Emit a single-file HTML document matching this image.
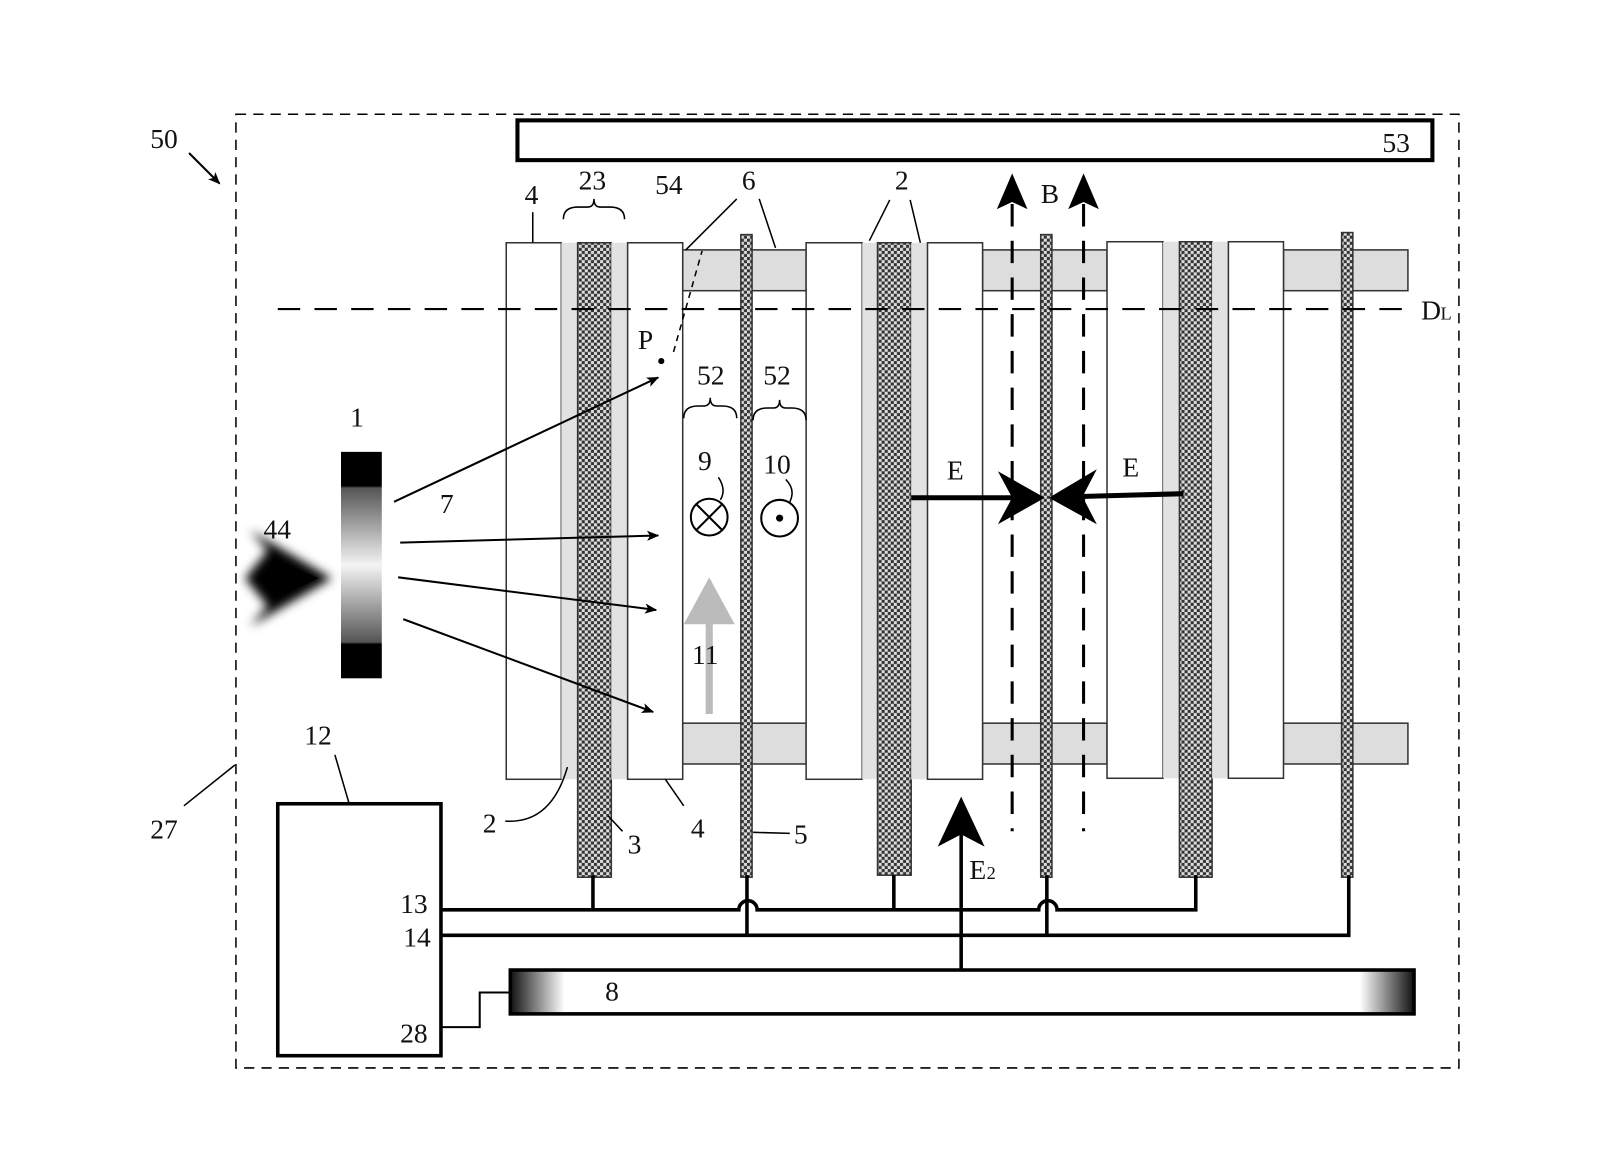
<!DOCTYPE html>
<html><head><meta charset="utf-8"><style>
html,body{margin:0;padding:0;background:#fff}
svg{display:block}
text{font-family:"Liberation Serif",serif;font-size:27px;fill:#111}
</style></head><body>
<svg width="1600" height="1173" viewBox="0 0 1568 1150" xmlns="http://www.w3.org/2000/svg">
<defs>
<pattern id="hatch" width="6" height="6" patternUnits="userSpaceOnUse">
<rect width="6" height="6" fill="#ddd"/><rect width="3" height="3" fill="#333"/><rect x="3" y="3" width="3" height="3" fill="#333"/>
</pattern>
<linearGradient id="src" x1="0" y1="0" x2="0" y2="1">
<stop offset="0" stop-color="#000"/><stop offset="0.15" stop-color="#000"/><stop offset="0.16" stop-color="#555"/>
<stop offset="0.5" stop-color="#f4f4f4"/><stop offset="0.84" stop-color="#555"/><stop offset="0.85" stop-color="#000"/><stop offset="1" stop-color="#000"/>
</linearGradient>
<linearGradient id="g8" x1="0" y1="0" x2="1" y2="0">
<stop offset="0" stop-color="#111"/><stop offset="0.06" stop-color="#fff"/><stop offset="0.94" stop-color="#fff"/><stop offset="1" stop-color="#111"/>
</linearGradient>
<filter id="blur"><feGaussianBlur stdDeviation="5"/></filter>
<marker id="ah" markerWidth="12" markerHeight="10" refX="11" refY="5" orient="auto" markerUnits="userSpaceOnUse"><path d="M0,0 L12,5 L0,10 L3,5z" fill="#000"/></marker>
</defs>

<!-- outer dashed -->
<rect x="231" y="112" width="1199" height="935" fill="none" stroke="#000" stroke-width="1.5" stroke-dasharray="10,7"/>
<!-- 53 -->
<rect x="507" y="118" width="897" height="39" fill="#fff" stroke="#000" stroke-width="4"/>
<text x="1355" y="149">53</text>

<!-- bars -->
<g fill="#ddd" stroke="#333" stroke-width="1.5">
<rect x="669" y="245" width="121" height="40"/><rect x="963" y="245" width="122" height="40"/><rect x="1258" y="245" width="122" height="40"/>
<rect x="669" y="709" width="121" height="40"/><rect x="963" y="709" width="122" height="40"/><rect x="1258" y="709" width="122" height="40"/>
</g>

<!-- plate groups -->
<g stroke="#333" stroke-width="1.5">
<rect x="496" y="238" width="54" height="526" fill="#fff"/>
<rect x="550" y="238" width="16" height="526" fill="#e2e2e2" stroke="none"/>
<rect x="566" y="238" width="33" height="622" fill="url(#hatch)"/>
<rect x="599" y="238" width="16" height="526" fill="#e2e2e2" stroke="none"/>
<rect x="615" y="238" width="54" height="526" fill="#fff"/>

<rect x="790" y="238" width="55" height="526" fill="#fff"/>
<rect x="845" y="238" width="15" height="526" fill="#e2e2e2" stroke="none"/>
<rect x="860" y="238" width="33" height="620" fill="url(#hatch)"/>
<rect x="893" y="238" width="16" height="526" fill="#e2e2e2" stroke="none"/>
<rect x="909" y="238" width="54" height="526" fill="#fff"/>

<rect x="1085" y="237" width="55" height="526" fill="#fff"/>
<rect x="1140" y="237" width="16" height="526" fill="#e2e2e2" stroke="none"/>
<rect x="1156" y="237" width="32" height="623" fill="url(#hatch)"/>
<rect x="1188" y="237" width="16" height="526" fill="#e2e2e2" stroke="none"/>
<rect x="1204" y="237" width="54" height="526" fill="#fff"/>

<rect x="726" y="230" width="11" height="630" fill="url(#hatch)"/>
<rect x="1020" y="230" width="11" height="630" fill="url(#hatch)"/>
<rect x="1315" y="228" width="11" height="632" fill="url(#hatch)"/>
</g>

<!-- DL -->
<line x1="272" y1="303" x2="1385" y2="303" stroke="#000" stroke-width="2" stroke-dasharray="22,14"/>
<text x="1393" y="313">D</text><text x="1412" y="313" style="font-size:18px">L</text>

<!-- B field -->
<g stroke="#000" stroke-width="3" stroke-dasharray="22,14">
<line x1="992" y1="200" x2="992" y2="815"/><line x1="1062" y1="200" x2="1062" y2="815"/>
</g>
<path d="M992,170 L1007,205 L992,198 L977,205z M1062,170 L1077,205 L1062,198 L1047,205z" fill="#000"/>
<text x="1020" y="199">B</text>

<!-- E arrows -->
<line x1="893" y1="488" x2="1000" y2="488" stroke="#000" stroke-width="5"/>
<path d="M1024,488 L978,462 L992,488 L978,514z" fill="#000"/>
<line x1="1050" y1="487" x2="1160" y2="484" stroke="#000" stroke-width="5"/>
<path d="M1028,488 L1075,460 L1061,487 L1075,514z" fill="#000"/>
<text x="928" y="470">E</text><text x="1100" y="467">E</text>

<!-- wires -->
<g stroke="#000" stroke-width="3.5" fill="none">
<path d="M432,892 H724 a9,9 0 0 1 18,0 H1018 a9,9 0 0 1 18,0 H1172 V858"/>
<line x1="581" y1="892" x2="581" y2="858"/><line x1="876" y1="892" x2="876" y2="858"/>
<path d="M432,917 H1322 V858"/>
<line x1="732" y1="917" x2="732" y2="858"/><line x1="1026" y1="917" x2="1026" y2="858"/>
<line x1="942" y1="951" x2="942" y2="815"/>
</g>
<path d="M942,781 L965,830 L942,818 L919,830z" fill="#000"/>
<text x="950" y="862">E</text><text x="967" y="862" style="font-size:18px">2</text>

<!-- box 12 -->
<rect x="272" y="788" width="160" height="247" fill="#fff" stroke="#000" stroke-width="3.5"/>
<text x="392" y="895">13</text><text x="395" y="928">14</text><text x="392" y="1022">28</text>
<path d="M432,1007 H470 V973 H500" fill="none" stroke="#000" stroke-width="2"/>
<!-- 8 -->
<rect x="500" y="951" width="886" height="43" fill="url(#g8)" stroke="#000" stroke-width="3.5"/>
<text x="593" y="981">8</text>

<!-- source -->
<rect x="334" y="443" width="40" height="222" fill="url(#src)"/>
<g filter="url(#blur)"><path d="M240,567 L262,540 L245,520 L325,567 L245,614 L262,594z" fill="#000"/></g>
<path d="M262,567 L270,548 L312,567 L270,586z" fill="#000"/>
<text x="258" y="528">44</text><text x="343" y="418">1</text>

<!-- ray arrows -->
<g stroke="#000" stroke-width="2" marker-end="url(#ah)">
<line x1="386" y1="492" x2="645" y2="370"/><line x1="392" y1="532" x2="645" y2="525"/>
<line x1="390" y1="566" x2="643" y2="598"/><line x1="395" y1="607" x2="640" y2="698"/>
</g>
<text x="431" y="503">7</text>
<circle cx="648" cy="354" r="3" fill="#000"/><text x="625" y="342">P</text>
<path d="M660,345 L688,246" stroke="#000" stroke-width="1.5" stroke-dasharray="6,5" fill="none"/>

<!-- symbols -->
<circle cx="695" cy="507" r="18" fill="#fff" stroke="#000" stroke-width="2"/>
<path d="M683,495 L707,519 M707,495 L683,519" stroke="#000" stroke-width="2"/>
<circle cx="764" cy="508" r="18" fill="#fff" stroke="#000" stroke-width="2"/>
<circle cx="764" cy="508" r="3.5" fill="#000"/>
<text x="684" y="461">9</text><text x="748" y="464">10</text>
<path d="M704,468 Q712,480 706,490 M770,470 Q780,480 774,492" stroke="#000" stroke-width="1.5" fill="none"/>
<line x1="695" y1="700" x2="695" y2="610" stroke="#bbb" stroke-width="7"/>
<path d="M695,566 L720,612 L670,612z" fill="#bbb"/>
<text x="678" y="651">11</text>

<!-- braces -->
<g stroke="#000" stroke-width="1.5" fill="none">
<path d="M552,215 Q552,203 566,203 L576,203 Q582,203 582,195 Q582,203 588,203 L598,203 Q612,203 612,215"/>
<path d="M670,410 Q670,398 684,398 L690,398 Q696,398 696,390 Q696,398 702,398 L708,398 Q722,398 722,410"/>
<path d="M738,412 Q738,400 752,400 L758,400 Q764,400 764,392 Q764,400 770,400 L776,400 Q790,400 790,412"/>
</g>
<text x="567" y="186">23</text><text x="683" y="377">52</text><text x="748" y="377">52</text>
<text x="514" y="200">4</text><line x1="522" y1="208" x2="522" y2="238" stroke="#000" stroke-width="1.5"/>
<text x="642" y="190">54</text>
<text x="727" y="186">6</text>
<path d="M722,195 L672,245 M744,195 L760,243" stroke="#000" stroke-width="1.5"/>
<text x="877" y="186">2</text>
<path d="M872,196 L852,236 M892,196 L902,238" stroke="#000" stroke-width="1.5"/>

<!-- lower labels -->
<text x="473" y="816">2</text>
<path d="M495,805 Q540,808 556,752" stroke="#000" stroke-width="1.5" fill="none"/>
<text x="615" y="837">3</text><line x1="596" y1="800" x2="610" y2="815" stroke="#000" stroke-width="1.5"/>
<text x="677" y="821">4</text><line x1="652" y1="764" x2="670" y2="790" stroke="#000" stroke-width="1.5"/>
<text x="778" y="827">5</text><line x1="738" y1="816" x2="774" y2="817" stroke="#000" stroke-width="1.5"/>
<text x="298" y="730">12</text><line x1="328" y1="740" x2="342" y2="788" stroke="#000" stroke-width="1.5"/>
<text x="147" y="822">27</text><line x1="180" y1="790" x2="230" y2="750" stroke="#000" stroke-width="1.5"/>
<text x="147" y="145">50</text>
<line x1="185" y1="150" x2="215" y2="180" stroke="#000" stroke-width="2" marker-end="url(#ah)"/>
</svg>
</body></html>
